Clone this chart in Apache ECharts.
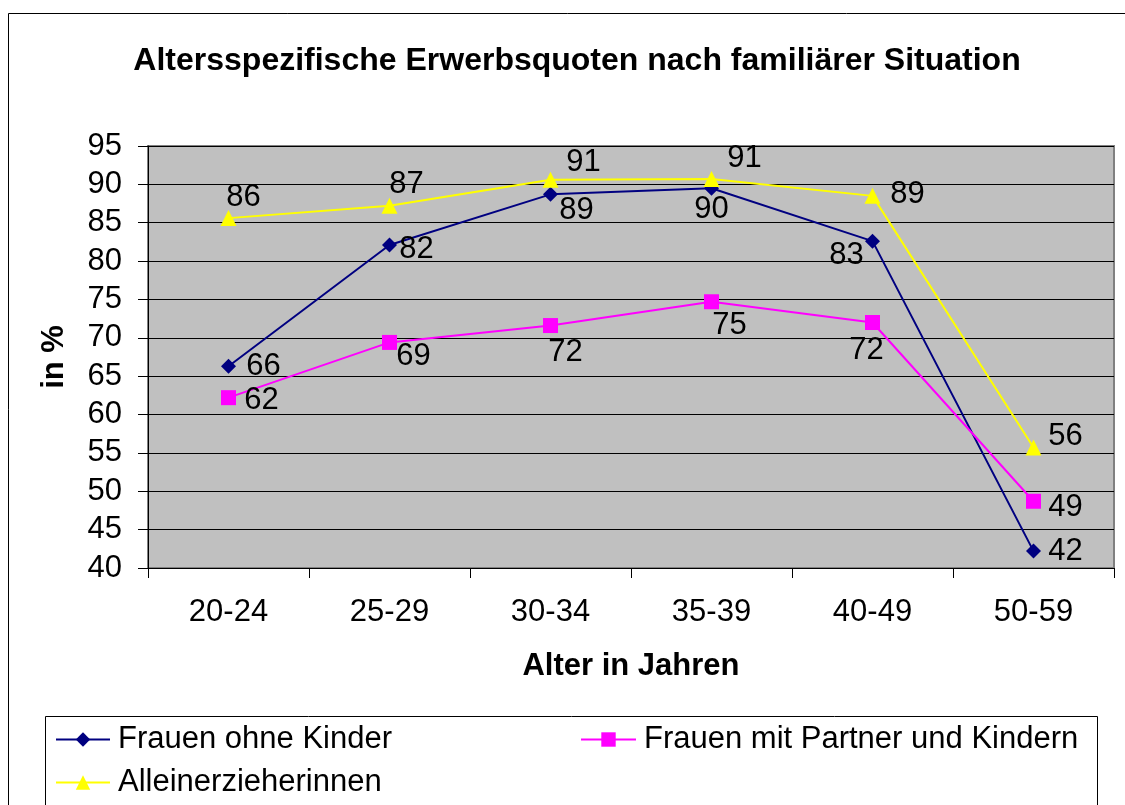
<!DOCTYPE html>
<html>
<head>
<meta charset="utf-8">
<script src="https://cdn.jsdelivr.net/npm/echarts@6/dist/echarts.min.js"></script>
<style>
  html, body { margin: 0; padding: 0; background: #fff; }
  #chart { width: 1125px; height: 805px; }
</style>
</head>
<body>
<div id="chart"></div>
<script>
// Daten
var ageGroups = ['20-24', '25-29', '30-34', '35-39', '40-49', '50-59'];
var ohneKinder = [66.3, 82.1, 88.7, 89.5, 82.6, 42.2];
var mitPartner = [62.2, 69.4, 71.6, 74.7, 72.0, 48.7];
var alleinerz = [85.6, 87.2, 90.6, 90.7, 88.5, 55.7];
var yTicks = [40, 45, 50, 55, 60, 65, 70, 75, 80, 85, 90, 95];

var fontFam = '"Liberation Sans", Arial, sans-serif';

// Beschriftungs-Versatz je Punkt (Layout)
var offBlue = [[35, 0], [27, 4], [26, 16], [0, 21], [-26, 14], [32, 0]];
var offPink = [[33, 3], [24, 14], [15, 27], [18, 24], [-6, 28], [32, 6]];
var offYellow = [[15, -21], [17, -21], [33, -17], [33, -21], [35, -1], [32, -11]];

function withLabels(vals, offs) {
  return vals.map(function (v, i) {
    return { value: v, label: { offset: offs[i] } };
  });
}

var labelStyle = {
  show: true,
  position: 'inside',
  color: '#000',
  fontSize: 31,
  fontFamily: fontFam,
  formatter: function (p) { return Math.round(p.value); }
};

var legendText = { fontSize: 31, color: '#000', fontFamily: fontFam, padding: [0, 0, 0, 3] };

var chart = echarts.init(document.getElementById('chart'));
chart.setOption({
  animation: false,
  backgroundColor: '#fff',
  textStyle: { fontFamily: fontFam },
  title: {
    text: 'Altersspezifische Erwerbsquoten nach familiärer Situation',
    left: 572,
    textAlign: 'center',
    top: 40,
    textStyle: { fontSize: 32, fontWeight: 'bold', color: '#000', fontFamily: fontFam }
  },
  graphic: [
    {
      type: 'rect',
      shape: { x: 8.5, y: 13.5, width: 1200, height: 900 },
      style: { fill: 'none', stroke: '#000', lineWidth: 1 },
      z: -1
    },
    {
      type: 'rect',
      shape: { x: 45.5, y: 716.5, width: 1052, height: 200 },
      style: { fill: '#fff', stroke: '#000', lineWidth: 1 },
      z: 0
    }
  ],
  legend: [
    {
      data: ['Frauen ohne Kinder'],
      left: 55, top: 724, padding: 0,
      itemWidth: 54, itemHeight: 18,
      textStyle: legendText,
      z: 5
    },
    {
      data: ['Frauen mit Partner und Kindern'],
      left: 580, top: 724, padding: 0,
      itemWidth: 55, itemHeight: 18,
      textStyle: legendText,
      z: 5
    },
    {
      data: ['Alleinerzieherinnen'],
      left: 55, top: 767, padding: 0,
      itemWidth: 54, itemHeight: 18,
      textStyle: legendText,
      z: 5
    }
  ],
  grid: {
    left: 148, right: 11, top: 146, bottom: 237,
    show: true,
    backgroundColor: '#C0C0C0',
    borderColor: '#808080',
    borderWidth: 2
  },
  xAxis: {
    type: 'category',
    data: ageGroups,
    boundaryGap: true,
    name: 'Alter in Jahren',
    nameLocation: 'middle',
    nameGap: 83,
    nameTextStyle: { fontSize: 31, fontWeight: 'bold', color: '#000', fontFamily: fontFam },
    axisLine: { show: true, lineStyle: { color: '#000', width: 1 } },
    axisTick: { show: true, length: 10, inside: false, lineStyle: { color: '#000' } },
    axisLabel: { fontSize: 31, color: '#000', margin: 29, fontFamily: fontFam },
    splitLine: { show: false }
  },
  yAxis: {
    type: 'value',
    min: yTicks[0],
    max: yTicks[yTicks.length - 1],
    interval: 5,
    name: 'in %',
    nameLocation: 'middle',
    nameRotate: 90,
    nameGap: 78,
    nameTextStyle: { fontSize: 31, fontWeight: 'bold', color: '#000', fontFamily: fontFam },
    axisLine: { show: true, lineStyle: { color: '#000', width: 1 } },
    axisTick: { show: true, length: 10, inside: false, lineStyle: { color: '#000' } },
    axisLabel: { fontSize: 31, color: '#000', margin: 26, fontFamily: fontFam },
    splitLine: { show: true, lineStyle: { color: '#000', width: 1 } }
  },
  series: [
    {
      name: 'Frauen ohne Kinder',
      type: 'line',
      data: withLabels(ohneKinder, offBlue),
      symbol: 'diamond',
      symbolSize: 15,
      color: '#000080',
      lineStyle: { color: '#000080', width: 2 },
      itemStyle: { color: '#000080' },
      label: labelStyle,
      z: 3
    },
    {
      name: 'Frauen mit Partner und Kindern',
      type: 'line',
      data: withLabels(mitPartner, offPink),
      symbol: 'rect',
      symbolSize: 15,
      color: '#FF00FF',
      lineStyle: { color: '#FF00FF', width: 2 },
      itemStyle: { color: '#FF00FF' },
      label: labelStyle,
      z: 3
    },
    {
      name: 'Alleinerzieherinnen',
      type: 'line',
      data: withLabels(alleinerz, offYellow),
      symbol: 'triangle',
      symbolSize: 16,
      color: '#FFFF00',
      lineStyle: { color: '#FFFF00', width: 2 },
      itemStyle: { color: '#FFFF00' },
      label: labelStyle,
      z: 3
    }
  ]
});
</script>
</body>
</html>
